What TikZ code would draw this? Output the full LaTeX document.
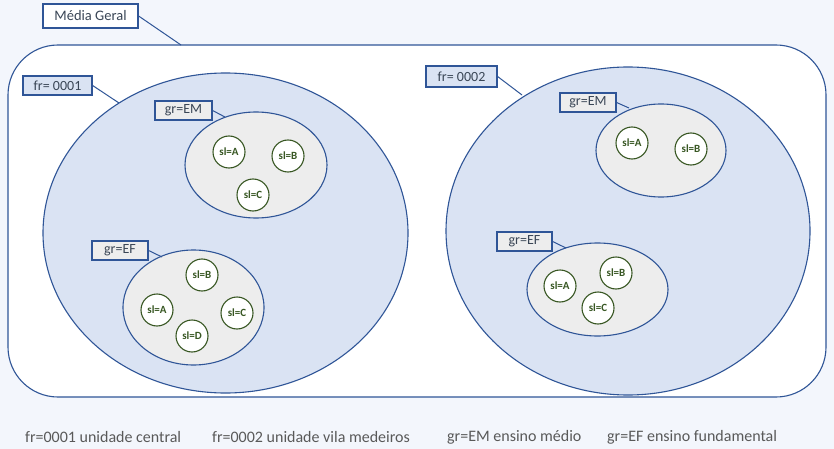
\documentclass[tikz,border=0pt]{standalone}
\usepackage{fontspec}
\setmainfont{Carlito}
\usetikzlibrary{shapes.geometric}
\definecolor{bg}{HTML}{F3F6FC}
\definecolor{frame}{HTML}{2F5597}
\definecolor{bluefill}{HTML}{DAE3F3}
\definecolor{grayfill}{HTML}{EDEDED}
\definecolor{green}{HTML}{385723}
\definecolor{txt}{HTML}{3A4656}
\definecolor{legend}{HTML}{595959}
\tikzset{
  x=1pt,y=-1pt,
  bigell/.style={ellipse,draw=frame,fill=bluefill,line width=1.1pt,inner sep=0pt},
  grell/.style={ellipse,draw=frame,fill=grayfill,line width=1.1pt,inner sep=0pt},
  slnode/.style={circle,draw=green,fill=white,line width=1.1pt,minimum size=32pt,inner sep=0pt,font=\fontsize{11}{12}\selectfont\bfseries,text=green},
  lblbox/.style={draw=frame,line width=1.2pt,inner sep=0pt,font=\fontsize{14}{16}\selectfont,text=txt},
  conn/.style={draw=frame,line width=1pt},
  legtxt/.style={anchor=west,inner sep=0pt,font=\fontsize{16}{18}\selectfont,text=legend}
}
\begin{document}
\begin{tikzpicture}
\useasboundingbox (0,0) rectangle (834,449);
\fill[bg] (0,0) rectangle (834,449);
% outer frame
\draw[frame,fill=white,line width=1.1pt,rounded corners=50pt] (8,45) rectangle (826,397);
\coordinate (frametop) at (181,45);
\node[lblbox,fill=white,minimum width=95pt,minimum height=24pt,font=\fontsize{14.5}{16}\selectfont] (mg) at (90.5,16) {Média Geral};
\draw[conn] (mg.east) -- (frametop);

% left big ellipse
\node[bigell,minimum width=365pt,minimum height=320pt] (fr1) at (225.5,233) {};
\coordinate (fr1pt) at (119,103);
\node[lblbox,fill=bluefill,minimum width=69pt,minimum height=19pt] (fr1lbl) at (57.5,85.5) {fr= 0001};
\draw[conn] (fr1lbl.east) -- (fr1pt);

% left gr=EM
\node[grell,minimum width=142pt,minimum height=106pt] (em1) at (256,165) {};
\coordinate (em1pt) at (225,117);
\node[lblbox,fill=grayfill,minimum width=57pt,minimum height=19pt] (em1lbl) at (183.5,110.5) {gr=EM};
\draw[conn] (em1lbl.east) -- (em1pt);
\node[slnode] (em1a) at (229,152) {sl=A};
\node[slnode] (em1b) at (288,156) {sl=B};
\node[slnode] (em1c) at (253,195) {sl=C};

% left gr=EF
\node[grell,minimum width=141pt,minimum height=115pt] (ef1) at (193.5,307.5) {};
\coordinate (ef1pt) at (162,257);
\node[lblbox,fill=grayfill,minimum width=56pt,minimum height=19pt] (ef1lbl) at (120,250.5) {gr=EF};
\draw[conn] (ef1lbl.east) -- (ef1pt);
\node[slnode] (ef1b) at (202,275) {sl=B};
\node[slnode] (ef1a) at (157,310) {sl=A};
\node[slnode] (ef1c) at (237,313) {sl=C};
\node[slnode] (ef1d) at (192,336) {sl=D};

% right big ellipse
\node[bigell,minimum width=364pt,minimum height=328pt] (fr2) at (628,231) {};
\coordinate (fr2pt) at (522,95);
\node[lblbox,fill=bluefill,minimum width=71pt,minimum height=21pt] (fr2lbl) at (461.5,76.5) {fr= 0002};
\draw[conn] (fr2lbl.east) -- (fr2pt);

% right gr=EM
\node[grell,minimum width=130pt,minimum height=93pt] (em2) at (661,150.5) {};
\coordinate (em2pt) at (629,108);
\node[lblbox,fill=grayfill,minimum width=56pt,minimum height=19pt] (em2lbl) at (588,102.5) {gr=EM};
\draw[conn] (em2lbl.east) -- (em2pt);
\node[slnode] (em2a) at (632,143) {sl=A};
\node[slnode] (em2b) at (691,149) {sl=B};

% right gr=EF
\node[grell,minimum width=141pt,minimum height=93pt] (ef2) at (597.5,289.5) {};
\coordinate (ef2pt) at (566,248);
\node[lblbox,fill=grayfill,minimum width=55pt,minimum height=19pt] (ef2lbl) at (524.5,241.5) {gr=EF};
\draw[conn] (ef2lbl.east) -- (ef2pt);
\node[slnode] (ef2a) at (560,286) {sl=A};
\node[slnode] (ef2b) at (616,273) {sl=B};
\node[slnode] (ef2c) at (598,308) {sl=C};

% legend
\node[legtxt] (l1) at (25,437) {fr=0001 unidade central};
\node[legtxt] (l2) at (212,437) {fr=0002 unidade vila medeiros};
\node[legtxt] (l3) at (447,437) {gr=EM ensino médio};
\node[legtxt] (l4) at (607,437) {gr=EF ensino fundamental};
\end{tikzpicture}
\end{document}
